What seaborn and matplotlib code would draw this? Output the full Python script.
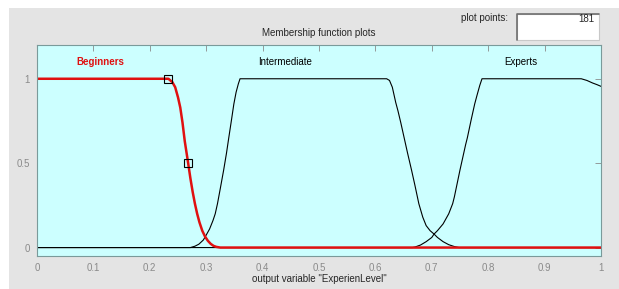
import seaborn as sns
import matplotlib
matplotlib.use('Agg')
import matplotlib.pyplot as plt
from matplotlib.patches import Rectangle
from matplotlib.lines import Line2D

# membership curves (x, degree)
beg_x = [0, 0.233, 0.24, 0.245, 0.25, 0.254, 0.258, 0.262, 0.268, 0.272, 0.276, 0.28, 0.284,
         0.288, 0.293, 0.298, 0.303, 0.308, 0.313, 0.318, 0.325, 1.0]
beg_y = [1, 1, 0.98, 0.95, 0.89, 0.83, 0.74, 0.63, 0.5, 0.41, 0.33, 0.26, 0.2,
         0.15, 0.1, 0.065, 0.04, 0.022, 0.01, 0.004, 0, 0]

mid_x = [0, 0.272, 0.28, 0.287, 0.295, 0.301, 0.306, 0.312, 0.316, 0.32, 0.325, 0.331, 0.336,
         0.34, 0.345, 0.349, 0.353, 0.357, 0.36, 0.62, 0.625, 0.63, 0.636, 0.64, 0.645, 0.651,
         0.657, 0.664, 0.67, 0.677, 0.684, 0.69, 0.697, 0.704, 0.71, 0.72, 0.73, 0.74, 0.748, 1.0]
mid_y = [0, 0, 0.008, 0.02, 0.045, 0.08, 0.11, 0.16, 0.2, 0.26, 0.35, 0.46, 0.56,
         0.65, 0.76, 0.85, 0.92, 0.97, 1, 1, 0.99, 0.95, 0.86, 0.81, 0.74, 0.65,
         0.56, 0.46, 0.37, 0.26, 0.18, 0.13, 0.1, 0.08, 0.06, 0.035, 0.017, 0.006, 0, 0]

exp_x = [0, 0.666, 0.67, 0.68, 0.69, 0.7, 0.704, 0.71, 0.72, 0.73, 0.737, 0.74, 0.75, 0.76,
         0.763, 0.77, 0.776, 0.78, 0.785, 0.789, 0.965, 0.975, 0.985, 0.993, 1.0]
exp_y = [0, 0, 0.003, 0.015, 0.035, 0.06, 0.08, 0.1, 0.14, 0.2, 0.26, 0.3, 0.46, 0.61,
         0.65, 0.76, 0.85, 0.9, 0.96, 1, 1, 0.99, 0.975, 0.965, 0.955]

# selected MF handles
handle_x = [0.233, 0.268]
handle_y = [1, 0.5]

mf_names = ['Beginners', 'Intermediate', 'Experts']
name_x = [0.112, 0.44, 0.858]
xticks = [0, 0.1, 0.2, 0.3, 0.4, 0.5, 0.6, 0.7, 0.8, 0.9, 1]
xtick_labels = ['0', '0.1', '0.2', '0.3', '0.4', '0.5', '0.6', '0.7', '0.8', '0.9', '1']
yticks = [0, 0.5, 1]
ytick_labels = ['0', '0.5', '1']

sns.set_style('white')
plt.rcParams['font.family'] = ['Liberation Sans', 'DejaVu Sans']
fs = 7

fig = plt.figure(figsize=(6.19, 2.89), dpi=100)
fig.patch.set_facecolor('#e4e4e4')
# white strips along top and left edge
fig.patches.append(Rectangle((0, 1 - 8 / 289), 1, 8 / 289, transform=fig.transFigure,
                             facecolor='white', edgecolor='none'))
fig.patches.append(Rectangle((0, 0), 9 / 619, 1, transform=fig.transFigure,
                             facecolor='white', edgecolor='none'))

ax = fig.add_axes([37 / 619, 33 / 289, 564 / 619, 211 / 289])
ax.set_facecolor('#ccffff')

sns.lineplot(x=mid_x, y=mid_y, ax=ax, color='black', linewidth=0.8, sort=False, estimator=None)
sns.lineplot(x=exp_x, y=exp_y, ax=ax, color='black', linewidth=0.8, sort=False, estimator=None)
sns.lineplot(x=beg_x, y=beg_y, ax=ax, color='#e01010', linewidth=1.8, sort=False, estimator=None)
ax.plot(handle_x, handle_y, linestyle='none', marker='s', markersize=6,
        markerfacecolor='none', markeredgecolor='black', markeredgewidth=0.8)

ax.set_xlim(0, 1)
ax.set_ylim(-0.05, 1.2)
ax.set_xticks(xticks)
ax.set_xticklabels(xtick_labels)
ax.set_yticks(yticks)
ax.set_yticklabels(ytick_labels)
ax.tick_params(direction='in', length=4, width=0.6, colors='#8a8a8a', labelsize=fs,
               top=True, right=True, pad=5)
for s in ax.spines.values():
    s.set_color('#7a9a9a')
    s.set_linewidth(0.8)

ax.text(name_x[0], 1.1, mf_names[0], color='#e01010', fontweight='bold', fontsize=fs, ha='center', va='center')
ax.text(name_x[1], 1.1, mf_names[1], color='black', fontsize=fs, ha='center', va='center')
ax.text(name_x[2], 1.1, mf_names[2], color='black', fontsize=fs, ha='center', va='center')

ax.set_xlabel('output variable "ExperienLevel"', fontsize=fs, labelpad=1)
fig.text(319 / 619, 1 - 33 / 289, 'Membership function plots', fontsize=fs, ha='center', va='center')

# plot points box (sunken edit field)
fig.text(508 / 619, 1 - 18 / 289, 'plot points:', fontsize=fs, ha='right', va='center')
bx0, bx1 = 517 / 619, 599 / 619
by0, by1 = 1 - 40 / 289, 1 - 14 / 289
fig.patches.append(Rectangle((bx0, by0), bx1 - bx0, by1 - by0, transform=fig.transFigure,
                             facecolor='white', edgecolor='#c8c8c8', linewidth=0.8))
fig.lines.append(Line2D([bx0, bx0, bx1], [by0, by1, by1], transform=fig.transFigure,
                        color='#6e6e6e', linewidth=1.2))
fig.text(594 / 619, 1 - 19 / 289, '181', fontsize=fs, ha='right', va='center')

plt.savefig('out.png', dpi=100, facecolor=fig.get_facecolor())
